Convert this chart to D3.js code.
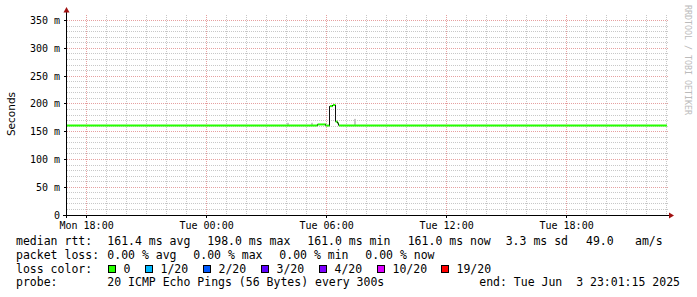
<!DOCTYPE html>
<html>
<head>
<meta charset="utf-8">
<script src="https://cdn.jsdelivr.net/npm/d3@7"></script>
<style>
body { margin: 0; background: #fff; }
text { font-family: "DejaVu Sans Mono", monospace; fill: #000; }
</style>
</head>
<body>
<div id="chart"></div>
<script>
const width = 697;
const height = 297;
const plot = { left: 67, right: 667, top: 15, bottom: 215 };

const parse = d3.timeParse("%Y-%m-%d %H:%M:%S");
const startTime = "2025-06-02 17:01:15";
const endTime = "2025-06-03 23:01:15";

// median rtt, in ms, as steps
const medianTimes = ["2025-06-02 17:01:15", "2025-06-03 05:33:00", "2025-06-03 05:58:00",
    "2025-06-03 06:10:00", "2025-06-03 06:19:00", "2025-06-03 06:27:00",
    "2025-06-03 06:33:00", "2025-06-03 06:37:00", "2025-06-03 23:01:15"];
const medianValues = [161, 163, 161, 196, 198, 168, 165, 161, 161];

// a few visible smoke bits
const smokeTimes = ["2025-06-03 04:03:00", "2025-06-03 05:15:00", "2025-06-03 07:24:00"];
const smokeLow = [161, 161, 161];
const smokeHigh = [166, 166, 173];

const yTicks = [0, 50, 100, 150, 200, 250, 300, 350];
const yTickLabels = ["0", "50 m", "100 m", "150 m", "200 m", "250 m", "300 m", "350 m"];

const rttLabels = ["161.4 ms avg", "198.0 ms max", "161.0 ms min", "161.0 ms now", "3.3 ms sd", "49.0", "am/s"];
const lossStatLabels = ["0.00 % avg", "0.00 % max", "0.00 % min", "0.00 % now"];
const lossLabels = ["0", "1/20", "2/20", "3/20", "4/20", "10/20", "19/20"];
const lossColors = ["#26ff00", "#00b8ff", "#0059ff", "#5e00ff", "#7e00ff", "#dd00ff", "#ff0000"];
const probeText = "20 ICMP Echo Pings (56 Bytes) every 300s";
const endText = "end: Tue Jun  3 23:01:15 2025";

const svg = d3.select("#chart")
    .append("svg")
    .attr("width", width)
    .attr("height", height);

const x = d3.scaleTime()
    .domain([parse(startTime), parse(endTime)])
    .range([plot.left, plot.right]);

const y = d3.scaleLinear()
    .domain([0, 360])
    .range([plot.bottom, plot.top]);

const px = v => Math.floor(v) + 0.5;

// grid
const minorY = d3.range(10, 360, 10).filter(d => d % 50 !== 0);
svg.selectAll(".ygrid-minor")
    .data(minorY)
    .enter().append("line")
    .attr("x1", plot.left).attr("x2", plot.right + 1)
    .attr("y1", d => px(y(d))).attr("y2", d => px(y(d)))
    .attr("stroke", "#c8c8c8")
    .attr("stroke-dasharray", "1 1");

const minorX = x.ticks(d3.timeHour.every(1)).filter(d => d.getHours() % 6 !== 0);
svg.selectAll(".xgrid-minor")
    .data(minorX)
    .enter().append("line")
    .attr("x1", d => px(x(d))).attr("x2", d => px(x(d)))
    .attr("y1", plot.top).attr("y2", plot.bottom)
    .attr("stroke", "#c8c8c8")
    .attr("stroke-dasharray", "1 1");

svg.selectAll(".ygrid-major")
    .data(yTicks.slice(1))
    .enter().append("line")
    .attr("x1", plot.left).attr("x2", plot.right + 1)
    .attr("y1", d => px(y(d))).attr("y2", d => px(y(d)))
    .attr("stroke", "#e6a0a0")
    .attr("stroke-dasharray", "1 1");

const majorX = x.ticks(d3.timeHour.every(6));
svg.selectAll(".xgrid-major")
    .data(majorX)
    .enter().append("line")
    .attr("x1", d => px(x(d))).attr("x2", d => px(x(d)))
    .attr("y1", plot.top).attr("y2", plot.bottom)
    .attr("stroke", "#e6a0a0")
    .attr("stroke-dasharray", "1 1");

// smoke
svg.selectAll(".smoke")
    .data(smokeTimes)
    .enter().append("rect")
    .attr("x", d => Math.floor(x(parse(d))))
    .attr("width", 2)
    .attr("y", (d, i) => y(smokeHigh[i]))
    .attr("height", (d, i) => y(smokeLow[i]) - y(smokeHigh[i]))
    .attr("fill", "#c8c8c8");

// median line: green flats, dark risers
const pts = medianTimes.map((t, i) => ({ t: parse(t), v: medianValues[i] }));
const flats = pts.slice(0, -1).map((p, i) => ({ x1: x(p.t), x2: x(pts[i + 1].t), y: y(p.v) }));
const risers = pts.slice(1, -1).map((p, i) => ({ x: x(p.t), y1: y(pts[i].v), y2: y(p.v) }));

svg.selectAll(".flat")
    .data(flats)
    .enter().append("line")
    .attr("x1", d => d.x1).attr("x2", d => d.x2)
    .attr("y1", d => d.y).attr("y2", d => d.y)
    .attr("stroke", lossColors[0])
    .attr("stroke-width", 2);

svg.selectAll(".riser")
    .data(risers)
    .enter().append("line")
    .attr("x1", d => px(d.x)).attr("x2", d => px(d.x))
    .attr("y1", d => d.y1).attr("y2", d => d.y2)
    .attr("stroke", "#111")
    .attr("stroke-width", 1);

// axes
svg.append("line")
    .attr("x1", 63).attr("x2", 669)
    .attr("y1", plot.bottom + 0.5).attr("y2", plot.bottom + 0.5)
    .attr("stroke", "#000");
svg.append("line")
    .attr("x1", plot.left - 0.5).attr("x2", plot.left - 0.5)
    .attr("y1", plot.bottom + 3).attr("y2", 12)
    .attr("stroke", "#000");
svg.append("path")
    .attr("d", "M669,212.5 L674,215.5 L669,218.5 Z")
    .attr("fill", "#a01010");
svg.append("path")
    .attr("d", "M63.5,12.5 L66.5,7 L69.5,12.5 Z")
    .attr("fill", "#a01010");

svg.selectAll(".ytick")
    .data(yTicks)
    .enter().append("line")
    .attr("x1", plot.left - 3).attr("x2", plot.left)
    .attr("y1", d => px(y(d))).attr("y2", d => px(y(d)))
    .attr("stroke", "#000");

svg.selectAll(".xtick")
    .data(majorX)
    .enter().append("line")
    .attr("x1", d => px(x(d))).attr("x2", d => px(x(d)))
    .attr("y1", plot.bottom).attr("y2", plot.bottom + 3)
    .attr("stroke", "#000");

svg.selectAll(".ylabel")
    .data(yTicks)
    .enter().append("text")
    .attr("x", 60)
    .attr("y", d => y(d) + 3.5)
    .attr("text-anchor", "end")
    .attr("font-size", "10px")
    .text((d, i) => yTickLabels[i]);

const fmt = d3.timeFormat("%a %H:%M");
svg.selectAll(".xlabel")
    .data(majorX)
    .enter().append("text")
    .attr("x", d => x(d))
    .attr("y", 229)
    .attr("text-anchor", "middle")
    .attr("font-size", "10px")
    .text(d => fmt(d));

svg.append("text")
    .attr("transform", "translate(15,114) rotate(-90)")
    .attr("text-anchor", "middle")
    .style("font-family", "'DejaVu Sans', sans-serif")
    .attr("font-size", "10.5px")
    .text("Seconds");

svg.append("text")
    .attr("transform", "translate(685,5) rotate(90)")
    .attr("text-anchor", "start")
    .attr("font-size", "8.3px")
    .style("fill", "#bbb")
    .text("RRDTOOL / TOBI OETIKER");

// legend
const lf = "11.5px";
const legendText = (tx, ty, s, anchor) => svg.append("text")
    .attr("x", tx).attr("y", ty)
    .attr("font-size", lf)
    .attr("text-anchor", anchor || "start")
    .attr("xml:space", "preserve")
    .text(s);

legendText(16, 245, "median rtt:");
const rttX = [107.3, 207.3, 307.3, 407.7, 505.7, 586, 635];
rttLabels.forEach((s, i) => legendText(rttX[i], 245, s));

legendText(16, 258.5, "packet loss:");
const lossStatX = [107.3, 193.3, 279.3, 365.3];
lossStatLabels.forEach((s, i) => legendText(lossStatX[i], 258.5, s));

legendText(16, 272.5, "loss color:");
const boxX = [108.5, 145.5, 203.5, 261.5, 319.5, 377.5, 441.5];
lossLabels.forEach((s, i) => {
    svg.append("rect")
        .attr("x", boxX[i]).attr("y", 265.5)
        .attr("width", 7).attr("height", 7)
        .attr("fill", lossColors[i])
        .attr("stroke", "#000");
    legendText(boxX[i] + 15, 272.5, s);
});

legendText(16, 286, "probe:");
legendText(107.3, 286, probeText);
legendText(680, 286, endText, "end");
</script>
</body>
</html>
